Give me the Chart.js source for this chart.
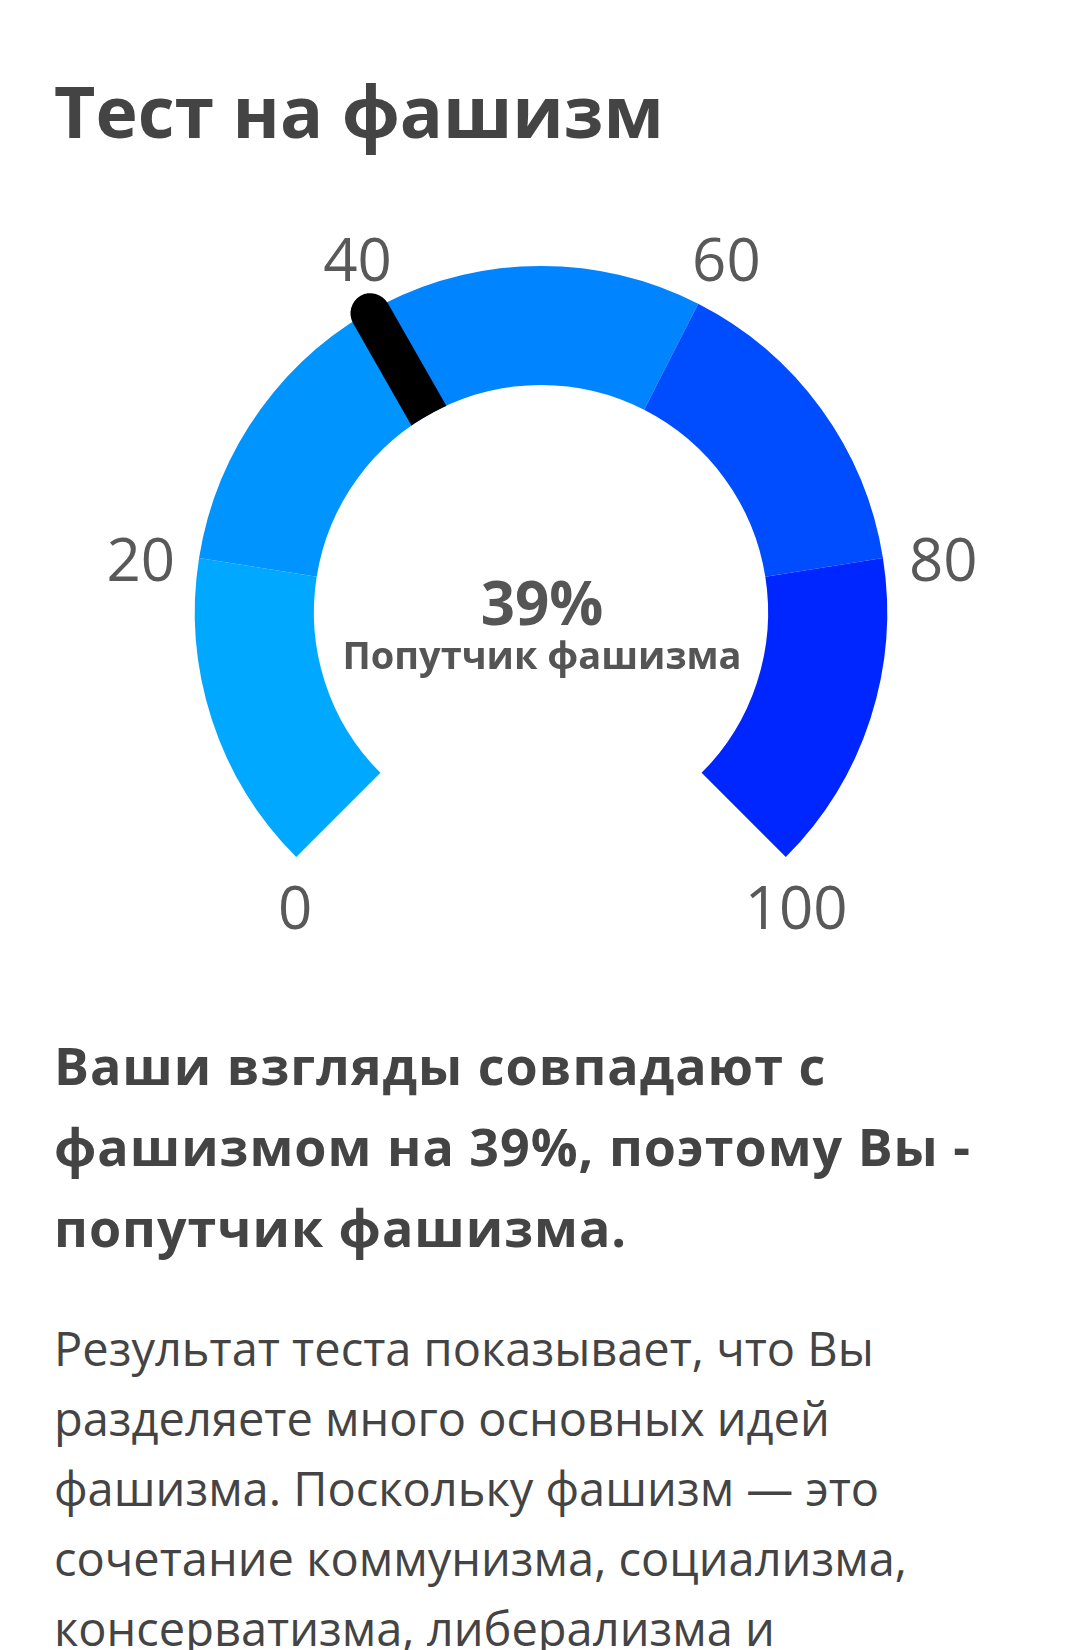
<!DOCTYPE html>
<html lang="ru">
<head>
<meta charset="utf-8">
<script src="https://cdn.jsdelivr.net/npm/chart.js@4.4.1/dist/chart.umd.min.js"></script>
<style>
  html, body { margin: 0; padding: 0; background: #fff; width: 1080px; height: 1650px; overflow: hidden; }
  body { position: relative; font-family: "Open Sans", sans-serif; color: #444; }
  .abs { position: absolute; white-space: nowrap; }
  #title { left: 54px; top: 75px; font-size: 71.5px; line-height: 72px; font-weight: 700; color: #444; }
  #chartWrap { position: absolute; left: 0; top: 200px; width: 1080px; height: 760px; }
  .ctr { left: 0; width: 1084px; text-align: center; color: #555; font-weight: 700; }
  #pct { top: 572px; font-size: 60px; line-height: 60px; }
  #lbl { top: 630px; font-size: 38px; line-height: 48px; }
  #heading { left: 54px; top: 1024px; font-size: 52px; line-height: 81px; font-weight: 700; letter-spacing: 1px; color: #444; }
  #body { left: 54px; top: 1313px; font-size: 47px; line-height: 70px; font-weight: 400; color: #444; }
</style>
</head>
<body>
<div id="title" class="abs">Тест на фашизм</div>
<div id="chartWrap"><canvas id="gauge" width="1080" height="760"></canvas></div>
<div id="pct" class="abs ctr"></div>
<div id="lbl" class="abs ctr"></div>
<div id="heading" class="abs"></div>
<div id="body" class="abs"></div>
<script>
// ---- data ----
const bandLimits = [0, 20, 40, 60, 80, 100];
const bandValues = [20, 20, 20, 20, 20];
const bandColors = ['#00A8FF', '#0094FF', '#0084FF', '#004CFF', '#0026FF'];
const tickValues = [0, 20, 40, 60, 80, 100];
const tickLabels = ['0', '20', '40', '60', '80', '100'];
const score = 39;
const scoreLabel = 'Попутчик фашизма';
const headingLines = ['Ваши взгляды совпадают с', 'фашизмом на 39%, поэтому Вы -', 'попутчик фашизма.'];
const bodyLines = [
  'Результат теста показывает, что Вы',
  'разделяете много основных идей',
  'фашизма. Поскольку фашизм — это',
  'сочетание коммунизма, социализма,',
  'консерватизма, либерализма и'
];

document.getElementById('pct').textContent = score + '%';
document.getElementById('lbl').textContent = scoreLabel;
document.getElementById('heading').innerHTML = headingLines.map(s => '<div>' + s + '</div>').join('');
document.getElementById('body').innerHTML = bodyLines.map(s => '<div>' + s + '</div>').join('');

const gaugeMin = bandLimits[0], gaugeMax = bandLimits[bandLimits.length - 1];

const gaugePlugin = {
  id: 'gaugeExtras',
  afterDatasetsDraw(chart) {
    const meta = chart.getDatasetMeta(0);
    const first = meta.data[0], last = meta.data[meta.data.length - 1];
    const cx = first.x, cy = first.y;
    const R = first.outerRadius, r = first.innerRadius;
    const a0 = first.startAngle, a1 = last.endAngle;
    const ang = v => a0 + (v - gaugeMin) / (gaugeMax - gaugeMin) * (a1 - a0);
    const ctx = chart.ctx;

    // needle
    ctx.save();
    ctx.beginPath();
    ctx.rect(0, 0, chart.width, chart.height);
    ctx.arc(cx, cy, r, 0, Math.PI * 2, true);
    ctx.clip('evenodd');
    const phi = ang(score);
    ctx.strokeStyle = '#000';
    ctx.lineWidth = 40;
    ctx.lineCap = 'round';
    ctx.beginPath();
    ctx.moveTo(cx + Math.cos(phi) * (r - 30), cy + Math.sin(phi) * (r - 30));
    ctx.lineTo(cx + Math.cos(phi) * (R - 2), cy + Math.sin(phi) * (R - 2));
    ctx.stroke();
    ctx.restore();

    // tick labels
    ctx.save();
    ctx.fillStyle = '#595959';
    ctx.font = '400 60px "Open Sans"';
    ctx.textAlign = 'center';
    ctx.textBaseline = 'alphabetic';
    tickValues.forEach((v, i) => {
      const p = ang(v);
      const below = Math.sin(p) > 0;
      const rx = below ? R + 8 : R + 60;
      const ry = below ? R + 56 : R + 62;
      const sx = below ? 4.7 : 1;
      const x = cx + sx + Math.cos(p) * rx;
      const y = cy + Math.sin(p) * ry + 11;
      ctx.fillText(tickLabels[i], x, y + 21.4);
    });
    ctx.restore();
  }
};

new Chart(document.getElementById('gauge'), {
  type: 'doughnut',
  data: {
    labels: bandValues.map((_, i) => bandLimits[i] + '–' + bandLimits[i + 1]),
    datasets: [{
      data: bandValues,
      backgroundColor: bandColors,
      borderWidth: 0,
      hoverOffset: 0
    }]
  },
  options: {
    responsive: false,
    animation: false,
    devicePixelRatio: 1,
    rotation: -135,
    circumference: 270,
    cutout: '65.6%',
    layout: { padding: { top: 66, bottom: 103, left: 2, right: 0 } },
    plugins: { legend: { display: false }, tooltip: { enabled: false } },
    events: []
  },
  plugins: [gaugePlugin]
});
</script>
</body>
</html>
